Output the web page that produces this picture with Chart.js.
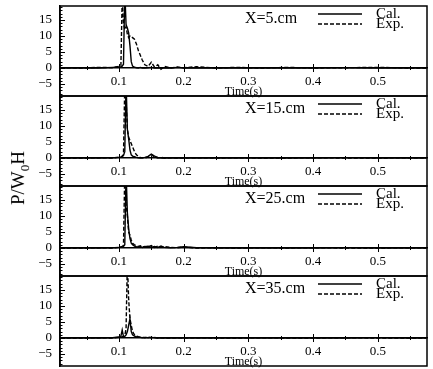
<!DOCTYPE html>
<html><head><meta charset="utf-8">
<script src="https://cdn.jsdelivr.net/npm/chart.js@4.4.1/dist/chart.umd.min.js"></script>
<style>
html,body{margin:0;padding:0;background:#fff;}
#wrap{position:relative;width:433px;height:369px;overflow:hidden;background:#fff;}
canvas.p{position:absolute;left:0;}
#ylab{position:absolute;left:20px;top:178px;transform:translate(-50%,-50%) rotate(-90deg);font-family:"Liberation Serif",serif;font-size:19px;color:#000;white-space:nowrap;}
#ylab sub{font-size:13px;}
</style></head><body>
<div id="wrap">
<canvas id="c0" class="p" width="433" height="130"></canvas>
<canvas id="c1" class="p" width="433" height="130"></canvas>
<canvas id="c2" class="p" width="433" height="130"></canvas>
<canvas id="c3" class="p" width="433" height="130"></canvas>
<div id="ylab">P/W<sub>0</sub>H</div>
</div>
<script>
// ---- data ----
const time = [0.01, 0.04, 0.07, 0.09, 0.1, 0.103, 0.105, 0.107, 0.109, 0.111, 0.113, 0.115, 0.117, 0.119, 0.121, 0.124, 0.127, 0.13, 0.133, 0.136, 0.14, 0.145, 0.15, 0.155, 0.16, 0.165, 0.17, 0.18, 0.19, 0.2, 0.22, 0.25, 0.28, 0.32, 0.36, 0.4, 0.45, 0.5, 0.55, 0.575];

const cal5  = [0, 0.1, 0, 0.2, 0.3, 0.4, 0.6, 1.2, 24, 13.5, 12.5, 11, 7, 2, 0.6, 0.3, 0.1, 0, 0.2, 0, 0, 0.1, 0.2, 0, 0.1, 0, 0.1, 0, 0.2, 0, 0.1, 0, 0.1, 0, 0.1, 0, 0.1, 0, 0.1, 0];
const exp5  = [0.1, 0, 0.2, 0.1, 0.5, 0.8, 22, 14, 12, 13, 10.5, 9.5, 10, 10, 9.5, 9, 7.5, 5.5, 4, 2.5, 1, 0.5, 1.8, 0.3, 1, -0.4, 0.5, 0, 0.3, 0.1, 0.4, 0, 0.2, 0, 0.2, 0, 0.1, 0.2, 0, 0];

const cal15 = [0, 0.1, 0, 0.1, 0.2, 0.3, 0.4, 0.8, 2, 24, 9, 6, 2.5, 1, 0.6, 0.4, 0.2, 0.1, 0, 0.1, 0.2, 0.5, 1.2, 0.6, 0.2, 0, 0.1, 0, 0.1, 0, 0.1, 0, 0, 0.1, 0, 0, 0.1, 0, 0, 0];
const exp15 = [0, 0, 0.1, 0, 0.3, 0.4, 0.6, 1, 23, 18, 9, 6.5, 5.5, 4.5, 3.5, 2, 1, 0.5, 0.2, 0.1, 0, 0.3, 1, 0.4, 0, 0.2, 0, 0.1, 0, 0, 0.1, 0, 0.1, 0, 0, 0.1, 0, 0, 0.1, 0];

const cal25 = [0, 0.1, 0, 0.1, 0.2, 0.3, 0.3, 0.5, 1, 24, 11, 6, 3, 1.5, 1, 0.6, 0.4, 0.3, 0.5, 0.2, 0.4, 0.6, 0.3, 0.5, 0.2, 0.6, 0.2, 0.1, 0.2, 0.4, 0.1, 0, 0.1, 0, 0.1, 0, 0.1, 0, 0, 0];
const exp25 = [0, 0, 0.1, 0, 0.2, 0.4, 0.5, 0.8, 24, 14, 10, 5, 4, 2.5, 1.5, 1, 0.8, 0.5, 0.7, 0.3, 0.5, 0.3, 0.8, 0.2, 0.6, 0.3, 0.5, 0.2, 0.1, 0.3, 0, 0.1, 0, 0.1, 0, 0.1, 0, 0, 0.1, 0];

const cal35 = [0, 0.1, 0, 0.1, 0.3, 0.6, 2.5, 0.4, 0.5, 1, 2, 4, 6, 2, 1, 0.6, 0.4, 0.3, 0.2, 0.1, 0.2, 0.1, 0.2, 0.1, 0, 0.1, 0, 0.1, 0, 0.1, 0, 0.1, 0, 0.1, 0, 0.1, 0, 0.1, 0, 0];
const exp35 = [0, 0, 0.1, 0, 0.2, 0.3, 0.4, 0.5, 0.7, 3, 24, 12, 6, 4, 2, 1, 0.6, 0.4, 0.3, 0.2, 0.1, 0.3, 0.1, 0.2, 0, 0.1, 0, 0, 0.1, 0, 0.1, 0, 0, 0.1, 0, 0, 0.1, 0, 0, 0];

const panelLabels = ['X=5.cm', 'X=15.cm', 'X=25.cm', 'X=35.cm'];
const calSeries = [cal5, cal15, cal25, cal35];
const expSeries = [exp5, exp15, exp25, exp35];
const seriesNames = ['Cal.', 'Exp.'];
const xTicks = [0.1, 0.2, 0.3, 0.4, 0.5];
const yTicks = [-5, 0, 5, 10, 15];
const xTitle = 'Time(s)';

// ---- drawing ----
const FONT = '"Liberation Serif", "Times New Roman", serif';
const PANEL_H = 90, TOP0 = 6, PAD = 20;

const framePlugin = {
  id: 'frame',
  afterDraw(chart, args, opts) {
    const {ctx, chartArea: a, scales: {x, y}} = chart;
    ctx.save();
    ctx.strokeStyle = '#000';
    ctx.lineWidth = 1.5;
    ctx.strokeRect(a.left, a.top, a.right - a.left, a.bottom - a.top);
    ctx.lineWidth = 1;
    ctx.beginPath();
    for (let v = Math.ceil(y.min); v <= Math.floor(y.max); v++) {
      const py = Math.round(y.getPixelForValue(v)) + 0.5;
      const len = v % 5 === 0 ? 5 : 2.5;
      ctx.moveTo(a.left, py); ctx.lineTo(a.left + len, py);
    }
    const y0 = y.getPixelForValue(0);
    for (let k = 1; k <= 11; k++) {
      const t = k * 0.05;
      if (t > x.max) break;
      const px = Math.round(x.getPixelForValue(t)) + 0.5;
      const len = k % 2 === 0 ? 4 : 2;
      ctx.moveTo(px, y0 - len); ctx.lineTo(px, y0 + len);
    }
    ctx.stroke();
    // panel label
    ctx.fillStyle = '#000';
    ctx.font = '16px ' + FONT;
    ctx.textBaseline = 'middle';
    ctx.textAlign = 'left';
    ctx.fillText(opts.label, 245, a.top + 13);
    // legend
    ctx.font = '15px ' + FONT;
    const ds = chart.data.datasets;
    ds.forEach((d, i) => {
      const ly = a.top + 8 + i * 10;
      ctx.beginPath();
      ctx.setLineDash(d.borderDash || []);
      ctx.lineWidth = d.borderWidth;
      ctx.moveTo(318, ly); ctx.lineTo(362, ly);
      ctx.stroke();
      ctx.setLineDash([]);
      ctx.fillText(d.label, 376, ly);
    });
    ctx.restore();
  }
};

for (let i = 0; i < 4; i++) {
  const cv = document.getElementById('c' + i);
  cv.style.top = (TOP0 + PANEL_H * i - PAD) + 'px';
  new Chart(cv, {
    type: 'line',
    data: {
      datasets: [
        {label: seriesNames[0], data: time.map((t, k) => ({x: t, y: calSeries[i][k]})),
         borderColor: '#000', borderWidth: 1.4, pointRadius: 0, tension: 0, fill: false},
        {label: seriesNames[1], data: time.map((t, k) => ({x: t, y: expSeries[i][k]})),
         borderColor: '#000', borderWidth: 1.4, borderDash: [4, 2], pointRadius: 0, tension: 0, fill: false}
      ]
    },
    options: {
      responsive: false,
      animation: false,
      layout: {padding: {top: PAD, bottom: PAD, left: 0, right: 6}},
      plugins: {legend: {display: false}, tooltip: {enabled: false}, frame: {label: panelLabels[i]}},
      scales: {
        x: {
          type: 'linear', min: 0.0089, max: 0.576, position: {y: 0},
          afterBuildTicks: s => { s.ticks = xTicks.map(v => ({value: v})); },
          grid: {display: false, drawTicks: false},
          border: {display: true, color: '#000', width: 1.5},
          ticks: {color: '#000', font: {family: FONT, size: 13}, padding: 6, maxRotation: 0, autoSkip: false,
                  callback: v => Number(v).toFixed(1)},
          title: {display: true, text: xTitle, color: '#000', font: {family: FONT, size: 12}, padding: {top: -11, bottom: 0}}
        },
        y: {
          type: 'linear', min: -8.75, max: 19.4,
          afterBuildTicks: s => { s.ticks = yTicks.map(v => ({value: v})); },
          afterFit: s => { s.width = 60; },
          grid: {display: false, drawTicks: false},
          border: {display: true, color: '#000', width: 1.5},
          ticks: {color: '#000', font: {family: FONT, size: 13}, padding: 8,
                  callback: v => String(v).replace('-', '\u2212')}
        }
      }
    },
    plugins: [framePlugin]
  });
}
</script>
</body></html>
